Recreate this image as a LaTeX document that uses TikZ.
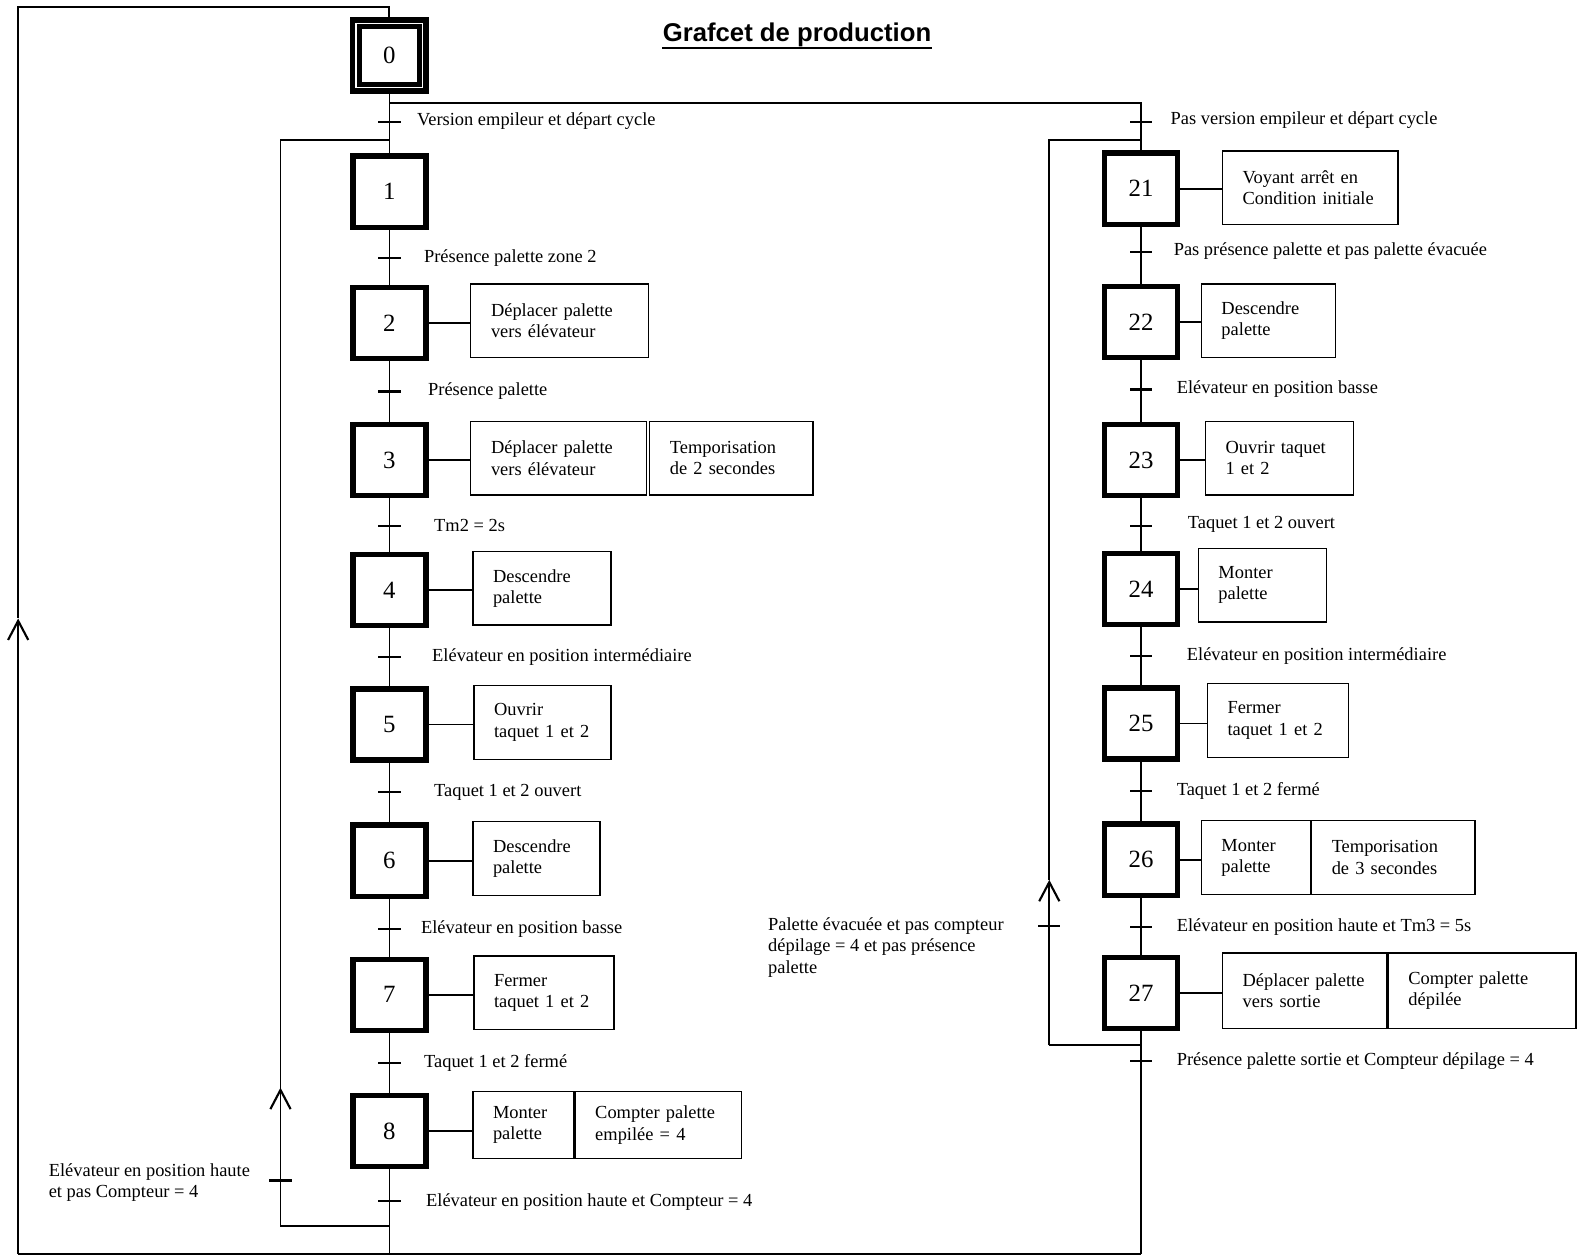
\documentclass[tikz,border=0pt]{standalone}
\usepackage{fontspec}
\setmainfont{Liberation Serif}
\newfontfamily\titrefont{Liberation Sans}
\usetikzlibrary{positioning,arrows.meta}

\tikzset{
	etape/.style={draw, line width=3pt, minimum width=1.45cm, minimum height=1.41cm, inner sep=0pt, font=\fontsize{14}{16}\selectfont},
	etapeinit/.style={etape, double, double distance=0.8pt, minimum width=1.32cm, minimum height=1.28cm},
	action/.style={draw, line width=0.75pt, anchor=west, align=left, inner xsep=0.4cm, inner ysep=0pt, minimum height=1.46cm, text width=#1},
	recept/.style={anchor=west, inner sep=0pt},
	trans/.style={fill, inner sep=0pt, minimum width=0.44cm, minimum height=1.2pt},
	lien/.style={line width=1pt},
	boucle/.style={line width=1.1pt},
	fleche/.style={boucle, -{Straight Barb[length=0.38cm, width=0.4cm, line width=1.2pt]}}
}

\begin{document}
\begin{tikzpicture}[x=0.02cm, y=-0.02cm, font=\fontsize{10.4}{12}\selectfont]
		\useasboundingbox (0,0) rectangle (1568,1245);

		% titre
		\node[font=\titrefont\bfseries\fontsize{14.5}{17}\selectfont, anchor=base, inner sep=0pt] (titre) at (790,41.6) {Grafcet de production};
		\draw[line width=1.3pt] ([yshift=-3.4pt]titre.base west) -- ([yshift=-3.4pt]titre.base east);

		% etapes branche gauche
		\node[etapeinit] (e0) at (386,55) {0};
		\node[etape] (e1) at (386,190) {1};
		\node[etape] (e2) at (386,320) {2};
		\node[etape] (e3) at (386,456) {3};
		\node[etape] (e4) at (386,585) {4};
		\node[etape] (e5) at (386,718) {5};
		\node[etape] (e6) at (386,853) {6};
		\node[etape] (e7) at (386,986) {7};
		\node[etape] (e8) at (386,1121) {8};

		% etapes branche droite
		\node[etape] (e21) at (1131,187) {21};
		\node[etape] (e22) at (1131,319) {22};
		\node[etape] (e23) at (1131,456) {23};
		\node[etape] (e24) at (1131,584) {24};
		\node[etape] (e25) at (1131,717) {25};
		\node[etape] (e26) at (1131,852) {26};
		\node[etape] (e27) at (1131,984) {27};

		% actions branche gauche
		\node[action=2.72cm] (a2) at (466,318) {Déplacer palette\\vers élévateur};
		\node[action=2.68cm] (a3) at (466,454) {Déplacer palette\\vers élévateur};
		\node[action=2.44cm, right=0.04cm of a3] (a3b) {Temporisation\\de 2 secondes};
		\node[action=1.94cm] (a4) at (468,583) {Descendre\\palette};
		\node[action=1.92cm] (a5) at (469,716) {Ouvrir\\taquet 1 et 2};
		\node[action=1.72cm] (a6) at (468,851) {Descendre\\palette};
		\node[action=1.98cm] (a7) at (469,984) {Fermer\\taquet 1 et 2};
		\node[action=1.2cm, minimum height=1.34cm] (a8) at (468,1115) {Monter\\palette};
		\node[action=2.5cm, minimum height=1.34cm, right=0pt of a8] (a8b) {Compter palette\\empilée = 4};

		% actions branche droite
		\node[action=2.68cm] (a21) at (1211,186) {Voyant arrêt en\\Condition initiale};
		\node[action=1.86cm] (a22) at (1190,318) {Descendre\\palette};
		\node[action=2.14cm] (a23) at (1194,454) {Ouvrir taquet\\1 et 2};
		\node[action=1.74cm] (a24) at (1187,580) {Monter\\palette};
		\node[action=2.0cm] (a25) at (1196,714) {Fermer\\taquet 1 et 2};
		\node[action=1.36cm] (a26) at (1190,850) {Monter\\palette};
		\node[action=2.44cm, right=0pt of a26] (a26b) {Temporisation\\de 3 secondes};
		\node[action=2.46cm, minimum height=1.5cm] (a27) at (1211,982) {Déplacer palette\\vers sortie};
		\node[action=2.92cm, minimum height=1.5cm, right=0pt of a27] (a27b) {Compter palette\\dépilée};

		% liaisons etape - action
		\draw[lien] (e2.east) -- (a2.west |- e2.east);
		\draw[lien] (e3.east) -- (a3.west |- e3.east);
		\draw[lien] (e4.east) -- (a4.west |- e4.east);
		\draw[lien] (e5.east) -- (a5.west |- e5.east);
		\draw[lien] (e6.east) -- (a6.west |- e6.east);
		\draw[lien] (e7.east) -- (a7.west |- e7.east);
		\draw[lien] (e8.east) -- (a8.west |- e8.east);
		\draw[lien] (e21.east) -- (a21.west |- e21.east);
		\draw[lien] (e22.east) -- (a22.west |- e22.east);
		\draw[lien] (e23.east) -- (a23.west |- e23.east);
		\draw[lien] (e24.east) -- (a24.west |- e24.east);
		\draw[lien] (e25.east) -- (a25.west |- e25.east);
		\draw[lien] (e26.east) -- (a26.west |- e26.east);
		\draw[lien] (e27.east) -- (a27.west |- e27.east);

		% points de liaison
		\coordinate (div) at (386,102);
		\coordinate (haut) at (18,7);
		\coordinate (bas) at (18,1243);
		\coordinate (f0) at (18,613);
		\coordinate (g1) at (278,1215);
		\coordinate (g2) at (278,139);
		\coordinate (fg) at (278,1078);
		\coordinate (d1) at (1040,1036);
		\coordinate (d2) at (1040,139);
		\coordinate (fd) at (1040,872);

		% liaisons verticales
		\draw[lien] (e0.south) -- (e1.north);
		\draw[lien] (e1.south) -- (e2.north);
		\draw[lien] (e2.south) -- (e3.north);
		\draw[lien] (e3.south) -- (e4.north);
		\draw[lien] (e4.south) -- (e5.north);
		\draw[lien] (e5.south) -- (e6.north);
		\draw[lien] (e6.south) -- (e7.north);
		\draw[lien] (e7.south) -- (e8.north);
		\draw[lien] (e8.south) -- (e8.south |- bas);
		\draw[lien] (div) -| (e21.north);
		\draw[lien] (e21.south) -- (e22.north);
		\draw[lien] (e22.south) -- (e23.north);
		\draw[lien] (e23.south) -- (e24.north);
		\draw[lien] (e24.south) -- (e25.north);
		\draw[lien] (e25.south) -- (e26.north);
		\draw[lien] (e26.south) -- (e27.north);
		\draw[lien] (e27.south) -- (e27.south |- bas);

		% retour vers l'etape 0
		\draw[boucle] (e27.south |- bas) -- (bas);
		\draw[fleche] (bas) -- (f0);
		\draw[boucle] (f0) -- (haut) -| (e0.north);

		% reprise vers l'etape 1
		\draw[boucle] (e8.south |- g1) -- (g1);
		\draw[fleche] (g1) -- (fg);
		\draw[boucle] (fg) -- (g2) -- (g2 -| e1.north);

		% reprise vers l'etape 21
		\draw[boucle] (e27.south |- d1) -- (d1);
		\draw[fleche] (d1) -- (fd);
		\draw[boucle] (fd) -- (d2) -- (d2 -| e21.north);

		% transitions branche gauche
		\node[trans] (t01) at (386,121) {};
		\node[trans] (t12) at (386,256) {};
		\node[trans] (t23) at (386,388) {};
		\node[trans] (t34) at (386,521) {};
		\node[trans] (t45) at (386,651) {};
		\node[trans] (t56) at (386,785) {};
		\node[trans] (t67) at (386,921) {};
		\node[trans] (t78) at (386,1054) {};
		\node[trans] (t8f) at (386,1190) {};
		\node[trans] (t81) at (278,1170) {};
		\node[recept] (r01) at (413,120) {Version empileur et départ cycle};
		\node[recept] (r12) at (420,256) {Présence palette zone 2};
		\node[recept] (r23) at (424,388) {Présence palette};
		\node[recept] (r34) at (430,521) {Tm2 = 2s};
		\node[recept] (r45) at (428,651) {Elévateur en position intermédiaire};
		\node[recept] (r56) at (430,785) {Taquet 1 et 2 ouvert};
		\node[recept] (r67) at (417,921) {Elévateur en position basse};
		\node[recept] (r78) at (420,1054) {Taquet 1 et 2 fermé};
		\node[recept] (r8f) at (422,1191) {Elévateur en position haute et Compteur = 4};
		\node[recept, align=left] (r81) at (48,1172) {Elévateur en position haute\\et pas Compteur = 4};

		% transitions branche droite
		\node[trans] (t021) at (1131,121) {};
		\node[trans] (t2122) at (1131,250) {};
		\node[trans] (t2223) at (1131,386) {};
		\node[trans] (t2324) at (1131,521) {};
		\node[trans] (t2425) at (1131,650) {};
		\node[trans] (t2526) at (1131,784) {};
		\node[trans] (t2627) at (1131,919) {};
		\node[trans] (t27f) at (1131,1052) {};
		\node[trans] (t2721) at (1040,918) {};
		\node[recept] (r021) at (1160,119) {Pas version empileur et départ cycle};
		\node[recept] (r2122) at (1163,249) {Pas présence palette et pas palette évacuée};
		\node[recept] (r2223) at (1166,386) {Elévateur en position basse};
		\node[recept] (r2324) at (1177,520) {Taquet 1 et 2 ouvert};
		\node[recept] (r2425) at (1176,650) {Elévateur en position intermédiaire};
		\node[recept] (r2526) at (1166,784) {Taquet 1 et 2 fermé};
		\node[recept] (r2627) at (1166,919) {Elévateur en position haute et Tm3 = 5s};
		\node[recept] (r27f) at (1166,1052) {Présence palette sortie et Compteur dépilage = 4};
		\node[recept, align=left] (r2721) at (761,939) {Palette évacuée et pas compteur\\dépilage = 4 et pas présence\\palette};
	\end{tikzpicture}
\end{document}
